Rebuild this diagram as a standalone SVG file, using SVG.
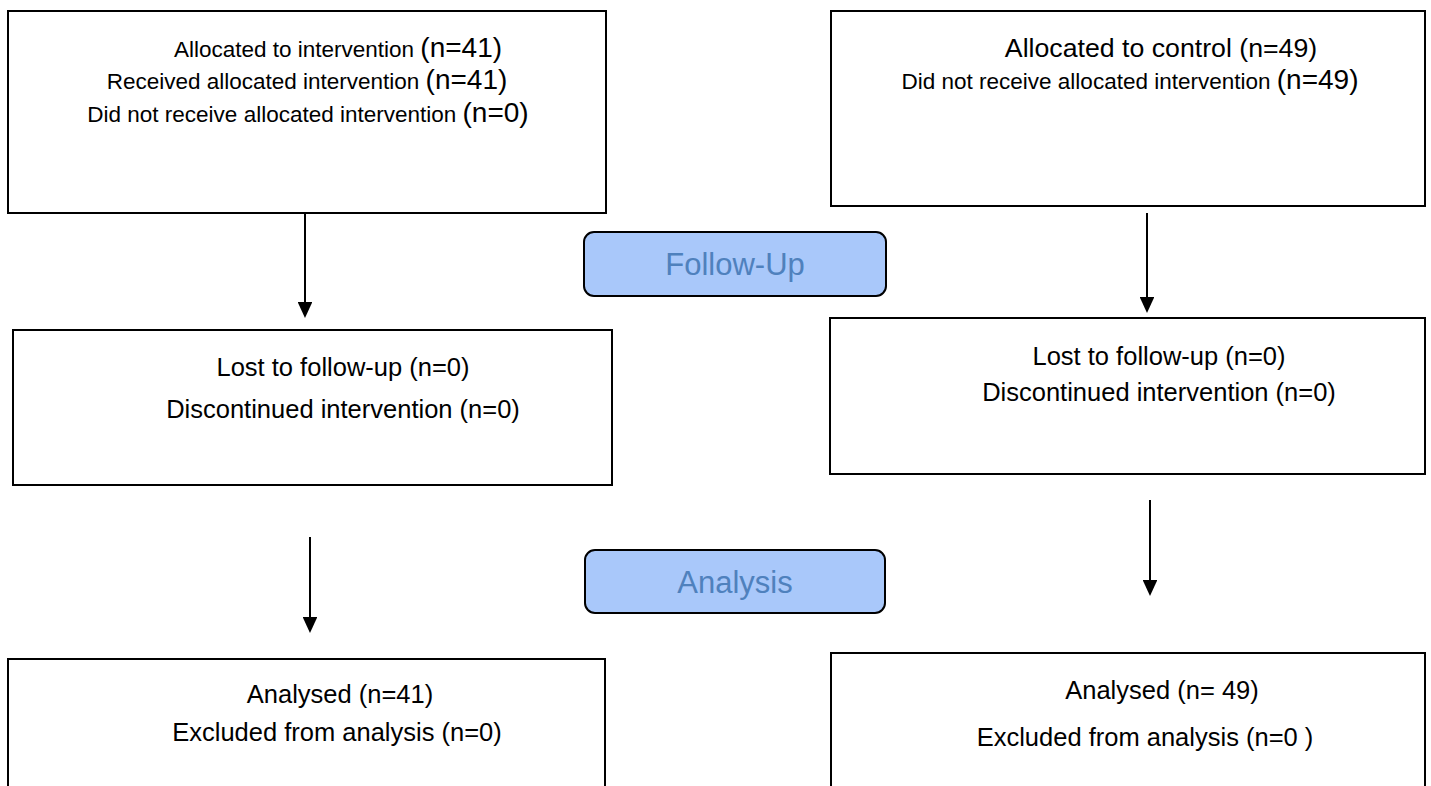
<svg xmlns="http://www.w3.org/2000/svg" width="1431" height="786" viewBox="0 0 1431 786">
<style>
.box{fill:#fff;stroke:#000;stroke-width:2}
.stage{fill:#a9c8fa;stroke:#000;stroke-width:2}
.t{font-family:"Liberation Sans",Arial,sans-serif;fill:#000;text-anchor:middle}
.st{font-family:"Liberation Sans",Arial,sans-serif;fill:#4f81bd;text-anchor:middle;font-size:31px}
.conn line{stroke:#000;stroke-width:2}
.s{font-size:22.5px}.p{font-size:28px}.m{font-size:25.5px}
</style>
<defs>
<marker id="ah" markerWidth="8" markerHeight="7.4" refX="7" refY="3.7" orient="auto" markerUnits="strokeWidth"><path d="M0,0 L8,3.7 L0,7.4 Z" fill="#000"/></marker>
</defs>
<rect width="1431" height="786" fill="#fff"/>
<g id="alloc-int">
<rect class="box" x="8" y="11" width="598" height="202"/>
<text class="t" x="338" y="57"><tspan class="s">Allocated to intervention </tspan><tspan class="p">(n=41)</tspan></text>
<text class="t" x="307" y="89"><tspan class="s">Received allocated intervention </tspan><tspan class="p">(n=41)</tspan></text>
<text class="t" x="308" y="122"><tspan class="s">Did not receive allocated intervention </tspan><tspan class="p">(n=0)</tspan></text>
</g>
<g id="alloc-ctrl">
<rect class="box" x="831" y="11" width="594" height="195"/>
<text class="t" x="1161" y="57" style="font-size:26.7px">Allocated to control (n=49)</text>
<text class="t" x="1130" y="89"><tspan class="s">Did not receive allocated intervention </tspan><tspan class="p">(n=49)</tspan></text>
</g>
<g id="followup">
<rect class="stage" x="584" y="232" width="302" height="64" rx="10"/>
<text class="st" x="735" y="275">Follow-Up</text>
</g>
<g id="fu-int">
<rect class="box" x="13" y="330" width="599" height="155"/>
<text class="t m" x="343" y="376">Lost to follow-up (n=0)</text>
<text class="t m" x="343" y="418">Discontinued intervention (n=0)</text>
</g>
<g id="fu-ctrl">
<rect class="box" x="830" y="318" width="595" height="156"/>
<text class="t m" x="1159" y="365">Lost to follow-up (n=0)</text>
<text class="t m" x="1159" y="401">Discontinued intervention (n=0)</text>
</g>
<g id="analysis">
<rect class="stage" x="585" y="550" width="300" height="63" rx="10"/>
<text class="st" x="735" y="593">Analysis</text>
</g>
<g id="an-int">
<rect class="box" x="8" y="659" width="597" height="150"/>
<text class="t m" x="340" y="703">Analysed (n=41)</text>
<text class="t m" x="337" y="741">Excluded from analysis (n=0)</text>
</g>
<g id="an-ctrl">
<rect class="box" x="831" y="653" width="594" height="150"/>
<text class="t m" x="1162" y="699">Analysed (n= 49)</text>
<text class="t m" x="1145" y="746">Excluded from analysis (n=0 )</text>
</g>
<g id="connectors" class="conn">
<line x1="305" y1="214" x2="305" y2="316" marker-end="url(#ah)"/>
<line x1="1147" y1="213" x2="1147" y2="311" marker-end="url(#ah)"/>
<line x1="310" y1="537" x2="310" y2="631" marker-end="url(#ah)"/>
<line x1="1150" y1="500" x2="1150" y2="594" marker-end="url(#ah)"/>
</g>
</svg>
